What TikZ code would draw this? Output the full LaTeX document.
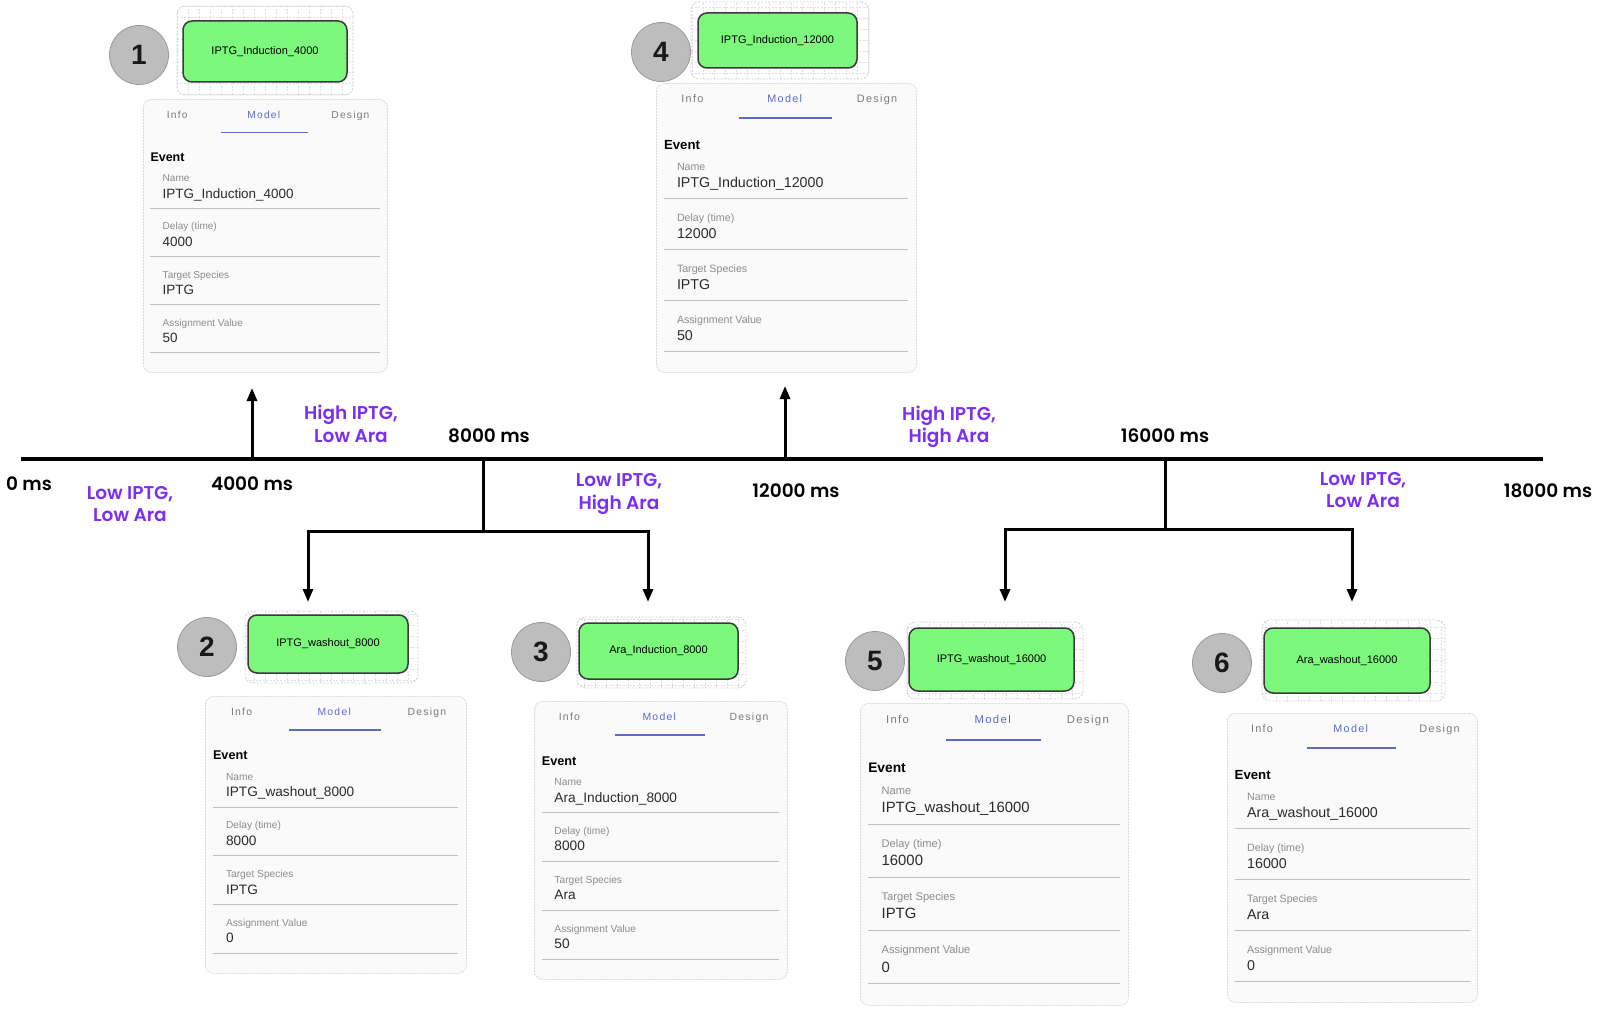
\documentclass[tikz,border=0pt]{standalone}
\usepackage{fontspec}
\setmainfont{Liberation Sans}
\newfontfamily\tlfont{Poppins SemiBold}
\newfontfamily\tabfont{Liberation Sans}[LetterSpace=12]
\usepackage{tikz}
\usetikzlibrary{arrows.meta,positioning,calc}
\definecolor{evgreen}{HTML}{7CF87C}
\definecolor{evedge}{HTML}{3A3A3A}
\definecolor{badgegrey}{HTML}{BDBDBD}
\definecolor{badgeedge}{HTML}{9A9A9A}
\definecolor{condpurple}{HTML}{7B2FF2}
\definecolor{tabblue}{HTML}{5A6BCB}
\definecolor{cardbg}{HTML}{FAFAFA}
\definecolor{valtext}{HTML}{2B2B2B}
\definecolor{labtext}{HTML}{8C8C8C}
\definecolor{tabgrey}{HTML}{7A7A7A}
\tikzset{
  >={Triangle[length=13pt,width=10pt]},
  % tidslinje
  timeline/.style={draw=black,line width=4pt},
  trunk/.style={draw=black,line width=3pt},
  evarrow/.style={->,draw=black,line width=3pt},
  tlabel/.style={font=\tlfont\fontsize{18.5}{22.5}\selectfont,inner sep=0pt},
  cond/.style={tlabel,text=condpurple,align=center},
  % händelser
  badge/.style={circle,fill=badgegrey,draw=badgeedge,line width=0.8pt,
                minimum size=59pt,inner sep=0pt,text=black!90,
                font=\bfseries\fontsize{28}{28}\selectfont},
  gridpane/.style={rectangle,rounded corners=8pt,fill=white,draw=black!18,
                   dash pattern=on 2pt off 1.5pt,line width=0.8pt,inner sep=0pt,
                   path picture={\draw[draw=black!13,line width=0.6pt,step=11pt]
                     (path picture bounding box.south west) grid
                     (path picture bounding box.north east);}},
  evbox/.style={rectangle,rounded corners=9pt,fill=evgreen,draw=evedge,
                line width=1.5pt,inner sep=0pt,font=\fontsize{11}{11}\selectfont},
  % kort
  cardbox/.style={rectangle,rounded corners=8pt,fill=cardbg,draw=black!14,
                  dash pattern=on 2pt off 1pt,line width=0.8pt,inner sep=0pt},
  tabtxt/.style={anchor=mid,inner sep=0pt,text=tabgrey,
                 font=\tabfont\fontsize{\ftab}{\ftab}\selectfont},
  tabline/.style={draw=tabblue,line width=1.6pt},
  evtitle/.style={anchor=mid west,inner sep=0pt,
                  font=\bfseries\fontsize{\fevt}{\fevt}\selectfont},
  fieldlab/.style={anchor=mid west,inner sep=0pt,text=labtext,
                   font=\fontsize{\flab}{\flab}\selectfont},
  fieldval/.style={anchor=mid west,inner sep=0pt,text=valtext,
                   font=\fontsize{\fval}{\fval}\selectfont},
  sepline/.style={draw=black!25,line width=1pt},
}
% kort: namn, x, y, bredd, höjd, namn, fördröjning, art, värde
\newcommand\evcard[9]{%
  \pgfmathsetmacro\fval{13.8*#5/280}%
  \pgfmathsetmacro\flab{10.3*#5/280}%
  \pgfmathsetmacro\fevt{12.8*#5/280}%
  \pgfmathsetmacro\ftab{10.5*#5/280}%
  \node[cardbox,minimum width=#4pt,minimum height=#5pt,anchor=north west] (#1) at (#2,#3) {};
  \begin{scope}[x=#4pt,y=-#5pt,shift={(#1.north west)}]
    \node[tabtxt] (#1info) at (0.14,0.06) {Info};
    \node[tabtxt,text=tabblue] (#1model) at (0.495,0.06) {Model};
    \node[tabtxt] (#1design) at (0.85,0.06) {Design};
    \draw[tabline] (0.32,0.122) -- (0.675,0.122);
    \node[evtitle] (#1event) at (0.03,0.221) {Event};
    \foreach \k/\lab/\val in {0/Name/{#6},1/{Delay (time)}/{#7},
                             2/{Target Species}/{#8},3/{Assignment Value}/{#9}}{
      \node[fieldlab] (#1lab\k) at (0.08,0.294+0.176*\k) {\lab};
      \node[fieldval] (#1val\k) at (0.08,0.354+0.176*\k) {\val};
      \draw[sepline] (0.03,0.401+0.176*\k) -- (0.97,0.401+0.176*\k);
    }
  \end{scope}
}

\begin{document}
\begin{tikzpicture}[x=1pt,y=-1pt]
\useasboundingbox (0,0) rectangle (1600,1011);
\fill[white] (0,0) rectangle (1600,1011);

% tidslinje
\coordinate (t0) at (21,459);
\coordinate (tE) at (1543,459);
\draw[timeline] (t0) -- (tE);
\node[tlabel] (ms0) at (29,484) {0 ms};
\node[tlabel] (ms4) at (252,484) {4000 ms};
\node[tlabel] (ms8) at (489,436) {8000 ms};
\node[tlabel] (ms12) at (796,491) {12000 ms};
\node[tlabel] (ms16) at (1165,436) {16000 ms};
\node[tlabel] (ms18) at (1548,491) {18000 ms};
\node[cond] (c0) at (130,504) {Low IPTG,\\Low Ara};
\node[cond] (c4) at (351,424) {High IPTG,\\Low Ara};
\node[cond] (c8) at (619,494) {Low IPTG,\\High Ara};
\node[cond] (c12) at (949,427) {High IPTG,\\High Ara};
\node[cond] (c16) at (1363,490) {Low IPTG,\\Low Ara};

\coordinate (k4) at (252,459);
\coordinate (u4) at (252,388);
\coordinate (k12) at (785,459);
\coordinate (u12) at (785,386);
\draw[evarrow] (k4) -- (u4);
\draw[evarrow] (k12) -- (u12);

\coordinate (k8) at (483,459);
\coordinate (j8) at (483,531);
\coordinate (d2) at (308,602);
\coordinate (d3) at (648,602);
\draw[trunk] (k8) -- (j8);
\draw[evarrow] (j8) -| (d2);
\draw[evarrow] (j8) -| (d3);

\coordinate (k16) at (1165,459);
\coordinate (j16) at (1165,529);
\coordinate (d5) at (1005,602);
\coordinate (d6) at (1352,602);
\draw[trunk] (k16) -- (j16);
\draw[evarrow] (j16) -| (d5);
\draw[evarrow] (j16) -| (d6);

% händelser
\node[gridpane,minimum width=176pt,minimum height=89pt] (g1) at (265,50.5) {};
\node[evbox,minimum width=164pt,minimum height=61pt] (e1) at (265,51.5) {IPTG\_Induction\_4000};
\node[badge] (n1) at (139,55) {1};
\evcard{k1}{143}{99}{244}{273}{IPTG\_Induction\_4000}{4000}{IPTG}{50}

\node[gridpane,minimum width=178pt,minimum height=77pt] (g4) at (780,40.5) {};
\node[evbox,minimum width=159pt,minimum height=55pt] (e4) at (777.5,40.5) {IPTG\_Induction\_12000};
\node[badge] (n4) at (661,52) {4};
\evcard{k4}{656}{83}{260}{289}{IPTG\_Induction\_12000}{12000}{IPTG}{50}

\node[gridpane,minimum width=173pt,minimum height=72pt] (g2) at (331.5,647) {};
\node[evbox,minimum width=160pt,minimum height=58pt] (e2) at (328,644) {IPTG\_washout\_8000};
\node[badge] (n2) at (207,647) {2};
\evcard{k2}{205}{696}{261}{277}{IPTG\_washout\_8000}{8000}{IPTG}{0}

\node[gridpane,minimum width=169pt,minimum height=71pt] (g3) at (661.5,652.5) {};
\node[evbox,minimum width=159pt,minimum height=56pt] (e3) at (658.5,651) {Ara\_Induction\_8000};
\node[badge] (n3) at (541,652) {3};
\evcard{k3}{534}{701}{253}{278}{Ara\_Induction\_8000}{8000}{Ara}{50}

\node[gridpane,minimum width=176pt,minimum height=77pt] (g5) at (995,660.5) {};
\node[evbox,minimum width=165pt,minimum height=63pt] (e5) at (991.5,659.5) {IPTG\_washout\_16000};
\node[badge] (n5) at (875,661) {5};
\evcard{k5}{860}{703}{268}{302}{IPTG\_washout\_16000}{16000}{IPTG}{0}

\node[gridpane,minimum width=183pt,minimum height=81pt] (g6) at (1353.5,660.5) {};
\node[evbox,minimum width=166pt,minimum height=65pt] (e6) at (1347,660.5) {Ara\_washout\_16000};
\node[badge] (n6) at (1222,663) {6};
\evcard{k6}{1227}{713}{250}{289}{Ara\_washout\_16000}{16000}{Ara}{0}
\end{tikzpicture}
\end{document}
